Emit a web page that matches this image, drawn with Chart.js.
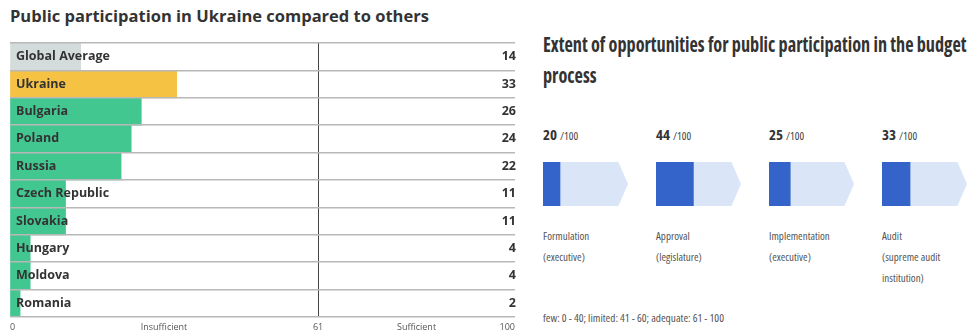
<!DOCTYPE html>
<html>
<head>
<meta charset="utf-8">
<script src="https://cdn.jsdelivr.net/npm/chart.js@4.4.1/dist/chart.umd.min.js"></script>
<style>
  html,body{margin:0;padding:0;background:#fff;width:969px;height:336px;overflow:hidden;}
  .abs{position:absolute;}
  #ltitle{left:10px;top:5px;font:700 16.5px "Open Sans",sans-serif;color:#333;white-space:nowrap;line-height:22px;}
  #rtitle{left:543px;top:28px;width:600px;font-family:"Open Sans",sans-serif;font-weight:700;font-size:22px;font-stretch:75%;line-height:31px;color:#333;white-space:nowrap;transform-origin:0 0;transform:scaleX(0.828);}
  .score{font-family:"Open Sans",sans-serif;font-stretch:75%;color:#333;white-space:nowrap;line-height:20px;top:124px;}
  .score b{font-size:15px;font-weight:700;}
  .score span{font-size:11px;font-weight:400;color:#444;}
  .stage{font-family:"Open Sans",sans-serif;font-stretch:75%;font-size:11px;color:#555;line-height:21px;top:225px;white-space:nowrap;}
  #foot{left:543px;top:308px;font-family:"Open Sans",sans-serif;font-stretch:75%;font-size:11.3px;color:#555;line-height:20px;white-space:nowrap;}
</style>
</head>
<body>
<div id="ltitle" class="abs">Public participation in Ukraine compared to others</div>
<canvas id="left" class="abs" style="left:0;top:0;" width="525" height="336"></canvas>
<div id="rtitle" class="abs">Extent of opportunities for public participation in the budget<br>process</div>
<div id="right"></div>
<div id="foot" class="abs">few: 0 - 40; limited: 41 - 60; adequate: 61 - 100</div>
<script>
// ---- data ----
const categories = ['Global Average','Ukraine','Bulgaria','Poland','Russia','Czech Republic','Slovakia','Hungary','Moldova','Romania'];
const scores = [14,33,26,24,22,11,11,4,4,2];
const xTicks = [0,30.5,61,80.5,100];
const xTickLabels = ['0','Insufficient','61','Sufficient','100'];
const stages = ['Formulation','Approval','Implementation','Audit'];
const stageNotes = [['(executive)'],['(legislature)'],['(executive)'],['(supreme audit','institution)']];
const stageScores = [20,44,25,33];
const stageMax = 100;

// ---- styles ----
const barColors = categories.map((c,i)=> i===0 ? '#d4dcdb' : (c==='Ukraine' ? '#f5c243' : '#43c791'));
const FONT = '"Open Sans", sans-serif';

new Chart(document.getElementById('left'), {
  type:'bar',
  data:{labels:categories, datasets:[{data:scores, backgroundColor:barColors, borderWidth:0, barPercentage:1, categoryPercentage:1}]},
  options:{
    indexAxis:'y', responsive:false, animation:false,
    layout:{padding:{left:10,right:10,top:43,bottom:0}},
    plugins:{legend:{display:false}, tooltip:{enabled:false}},
    scales:{
      x:{min:0,max:100,
        afterBuildTicks:(s)=>{s.ticks = xTicks.map(v=>({value:v}));},
        afterFit:(s)=>{s.height = 19;},
        ticks:{autoSkip:false,maxRotation:0,align:'inner',padding:5,color:'#555',font:{family:FONT,size:9},
          callback:(v,i)=>xTickLabels[i]},
        grid:{drawTicks:false,lineWidth:1,color:(ctx)=> ctx.tick && ctx.tick.value===61 ? '#444' : 'rgba(0,0,0,0)'},
        border:{display:false}
      },
      y:{position:'left',
        afterFit:(s)=>{s.width = 0;},
        ticks:{mirror:true,padding:6,z:1,color:'#333',font:{family:FONT,size:12.5,weight:'700'}},
        grid:{drawTicks:false,z:1,lineWidth:1.5,color:'#b8b8b8',offset:true},
        border:{display:false}
      },
      y2:{position:'right',type:'category',labels:categories,offset:true,
        afterFit:(s)=>{s.width = 0;},
        ticks:{mirror:true,padding:1,z:1,color:'#333',font:{family:FONT,size:12.5,weight:'700'},
          callback:(v,i)=>String(scores[i])},
        grid:{display:false},
        border:{display:false}
      }
    }
  }
});

// ---- right panel: progress arrows ----
const arrowTip = {
  id:'arrowTip',
  afterDatasetsDraw(chart){
    const meta = chart.getDatasetMeta(1);
    const el = meta.data[0];
    if(!el) return;
    const p = el.getProps(['x','y','height'], true);
    const top = p.y - p.height/2 - 1, bot = p.y + p.height/2 + 1, tip = 10;
    const ctx = chart.ctx;
    ctx.save();
    ctx.fillStyle = '#ffffff';
    ctx.beginPath();
    ctx.moveTo(p.x - tip, top); ctx.lineTo(p.x + 2, top); ctx.lineTo(p.x + 2, p.y); ctx.lineTo(p.x, p.y); ctx.closePath(); ctx.fill();
    ctx.beginPath();
    ctx.moveTo(p.x - tip, bot); ctx.lineTo(p.x + 2, bot); ctx.lineTo(p.x + 2, p.y); ctx.lineTo(p.x, p.y); ctx.closePath(); ctx.fill();
    ctx.restore();
  }
};

const rightDiv = document.getElementById('right');
const startX = 543, stepX = 113;
stages.forEach((name,i)=>{
  const x = startX + i*stepX;
  const sc = document.createElement('div');
  sc.className = 'abs score'; sc.style.left = x+'px';
  sc.innerHTML = '<b>'+stageScores[i]+'</b> <span>/'+stageMax+'</span>';
  rightDiv.appendChild(sc);

  const cv = document.createElement('canvas');
  cv.className='abs'; cv.width = 85; cv.height = 44;
  cv.style.left = x+'px'; cv.style.top = '162px';
  rightDiv.appendChild(cv);

  const lb = document.createElement('div');
  lb.className = 'abs stage'; lb.style.left = x+'px';
  lb.innerHTML = [name].concat(stageNotes[i]).join('<br>');
  rightDiv.appendChild(lb);

  new Chart(cv, {
    type:'bar',
    data:{labels:[name], datasets:[
      {data:[stageScores[i]], backgroundColor:'#3464c9', borderWidth:0, barPercentage:1, categoryPercentage:1},
      {data:[stageMax - stageScores[i]], backgroundColor:'#dae6f8', borderWidth:0, barPercentage:1, categoryPercentage:1}
    ]},
    options:{indexAxis:'y', responsive:false, animation:false,
      layout:{padding:0},
      plugins:{legend:{display:false}, tooltip:{enabled:false}},
      scales:{x:{stacked:true,min:0,max:stageMax,display:false}, y:{stacked:true,display:false}}
    },
    plugins:[arrowTip]
  });
});
</script>
</body>
</html>
